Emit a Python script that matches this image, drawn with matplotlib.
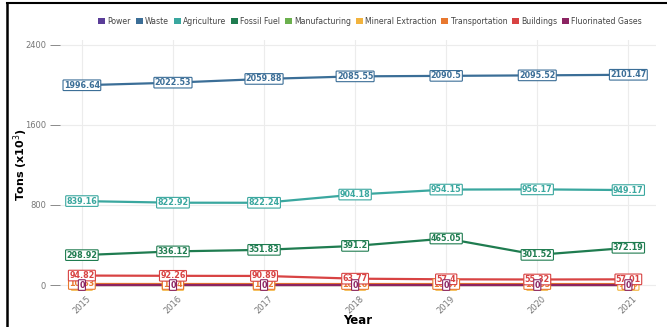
import numpy as np
import matplotlib.pyplot as plt
from matplotlib.lines import Line2D
from matplotlib.patches import Patch

years = [2015, 2016, 2017, 2018, 2019, 2020, 2021]

sectors = ['Power', 'Waste', 'Agriculture', 'Fossil Fuel', 'Manufacturing',
           'Mineral Extraction', 'Transportation', 'Buildings', 'Fluorinated Gases']
colors = ['#5a3d98', '#3b6e97', '#3aa79f', '#1f7c50', '#6bb04d',
          '#f2b33d', '#e8782f', '#d84343', '#8c2462']

power = [0, 0, 0, 0, 0, 0, 0]
waste = [1996.64, 2022.53, 2059.88, 2085.55, 2090.5, 2095.52, 2101.47]
agriculture = [839.16, 822.92, 822.24, 904.18, 954.15, 956.17, 949.17]
fossil_fuel = [298.92, 336.12, 351.83, 391.2, 465.05, 301.52, 372.19]
manufacturing = [0, 0, 0, 0, 0, 0, 0]
mineral_extraction = [1.03, 1.04, 1.02, 1.01, 1.07, 1.05, 1.06]
transportation = [10.63, 10.4, 10.2, 10.16, 10.07, 10.05, 10.0]
buildings = [94.82, 92.26, 90.89, 63.77, 57.4, 55.32, 57.01]
fluorinated = [0, 0, 0, 0, 0, 0, 0]

series = [power, waste, agriculture, fossil_fuel, manufacturing,
          mineral_extraction, transportation, buildings, fluorinated]

fig = plt.figure(figsize=(6.67, 3.27), dpi=100)
ax = fig.add_axes([0.09, 0.113, 0.893, 0.765])

for vals, c in zip(series, colors):
    ax.plot(years, vals, color=c, lw=1.6, zorder=2)

for vals, c in zip(series, colors):
    for x, v in zip(years, vals):
        txt = f'{v:g}' if v != 0 else '0'
        ax.text(x, v, txt, ha='center', va='center', fontsize=5.8, color=c,
                fontweight='bold', zorder=3,
                bbox=dict(boxstyle='round,pad=0.1', fc='white', ec=c, lw=0.8))

ax.set_xlim(2014.76, 2021.3)
ax.set_ylim(-50, 2450)
ax.set_xticks(years)
ax.set_yticks([0, 800, 1600, 2400])
ax.tick_params(axis='x', labelrotation=45, labelsize=6, colors='#777777', length=0, pad=3)
ax.tick_params(axis='y', labelsize=6, colors='#777777', length=7, width=0.6, pad=3)
ax.grid(True, color='#ececec', lw=0.8)
for s in ax.spines.values():
    s.set_visible(False)

ax.set_xlabel('Year', fontsize=8.5, fontweight='bold')
ax.set_ylabel('Tons (x10$^3$)', fontsize=8, fontweight='bold')
ax.xaxis.set_label_coords(0.5, -0.095)
ax.yaxis.set_label_coords(-0.05, 0.5)

handles = [Patch(facecolor=c, edgecolor='none') for c in colors]
fig.legend(handles, sectors, loc='center', bbox_to_anchor=(0.555, 0.935), ncol=9,
           frameon=False, fontsize=5.6, handlelength=0.9, handleheight=0.9,
           handletextpad=0.3, columnspacing=0.6, labelcolor='#444444')

# black frame of the screenshot
fig.add_artist(Line2D([0.011, 0.011], [0, 0.99], color='black', lw=1.8, transform=fig.transFigure))
fig.add_artist(Line2D([0.011, 1.0], [0.99, 0.99], color='black', lw=1.5, transform=fig.transFigure))

fig.savefig('out.png', dpi=100)
